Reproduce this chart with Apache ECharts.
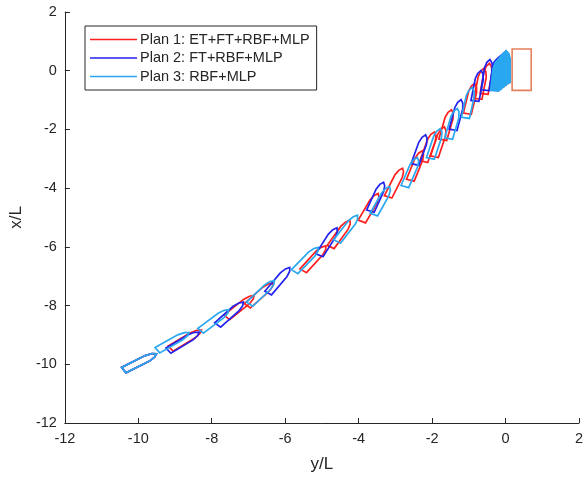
<!DOCTYPE html>
<html>
<head>
<meta charset="utf-8">
<script src="https://cdn.jsdelivr.net/npm/echarts@6/dist/echarts.min.js"></script>
<style>
  html, body { margin: 0; padding: 0; background: #fff; }
  #chart { width: 586px; height: 478px; }
</style>
</head>
<body>
<div id="chart"></div>
<script>
// ship snapshots: [y/L, x/L, heading deg (from x/L axis toward y/L)]
const plan1 = [
  [-9.95, -9.92, 58], [-8.70, -9.15, 53], [-7.22, -8.03, 45], [-6.68, -7.62, 42],
  [-5.20, -6.39, 36], [-4.50, -5.55, 30], [-3.69, -4.66, 25], [-3.00, -3.81, 22],
  [-2.43, -3.23, 18], [-2.08, -2.59, 16], [-1.80, -2.42, 15], [-1.59, -1.84, 13],
  [-0.94, -0.95, 11], [-0.67, -0.44, 9], [-0.51, -0.27, 8],
  [-0.26, -0.14, 5], [-0.19, -0.07, 4], [-0.13, -0.01, 3], [-0.07, 0.05, 2], [-0.02, 0.10, 1], [0.01, 0.14, 0]
];
const plan2 = [
  [-9.95, -9.92, 58], [-8.76, -9.22, 53], [-7.49, -8.27, 42], [-6.17, -7.14, 34],
  [-4.83, -5.82, 27], [-3.50, -4.29, 20], [-2.32, -2.69, 16], [-1.32, -1.50, 12],
  [-0.75, -0.51, 9], [-0.49, -0.14, 7],
  [-0.27, -0.12, 5], [-0.21, -0.06, 4], [-0.15, 0.00, 3], [-0.09, 0.05, 2], [-0.04, 0.10, 1], [0.00, 0.13, 0]
];
const plan3 = [
  [-9.95, -9.92, 58], [-9.05, -9.22, 55], [-7.92, -8.50, 47], [-6.63, -7.55, 40],
  [-5.42, -6.43, 38], [-4.31, -5.37, 32], [-3.37, -4.42, 24], [-2.57, -3.45, 19],
  [-1.91, -2.48, 15], [-1.43, -1.80, 13], [-1.00, -1.09, 10],
  [-0.25, -0.16, 5], [-0.225, -0.13, 5], [-0.20, -0.10, 4], [-0.175, -0.07, 4], [-0.15, -0.04, 3],
  [-0.125, -0.01, 3], [-0.10, 0.02, 2], [-0.08, 0.045, 2], [-0.06, 0.07, 2], [-0.04, 0.09, 1],
  [-0.02, 0.11, 1], [0.00, 0.13, 0], [0.01, 0.14, 0], [0.02, 0.155, 0]
];
const planNames = ['Plan 1: ET+FT+RBF+MLP', 'Plan 2: FT+RBF+MLP', 'Plan 3: RBF+MLP'];
const planColors = ['#ff1f1f', '#2222ee', '#2aa8ef'];
const berthY = [0.18, 0.70];
const berthX = [-0.67, 0.74];
const xTicks = [-12, 2, 2];   // min, max, interval
const yTicks = [-12, 2, 2];

const shipL = 1.05, shipB = 0.22;
// hull outline in ship axes (u along heading, v athwartships), fractions of L and B
const hull = [[-0.5, -0.5], [0.22, -0.5], [0.4, -0.32], [0.5, 0], [0.4, 0.32], [0.22, 0.5], [-0.5, 0.5]];

function shipItem(params, api) {
  const y0 = api.value(0), x0 = api.value(1), psi = api.value(2) * Math.PI / 180;
  const s = Math.sin(psi), c = Math.cos(psi);
  const pts = hull.map(function (p) {
    const u = p[0] * shipL, v = p[1] * shipB;
    return api.coord([y0 + u * s + v * c, x0 + u * c - v * s]);
  });
  return {
    type: 'polygon',
    shape: { points: pts },
    style: { fill: 'none', stroke: api.visual('color'), lineWidth: 1.7 }
  };
}

const axisColor = '#262626';
const font = 'Liberation Sans, Arial, Helvetica, sans-serif';

function axisBase(t, name, gap) {
  return {
    type: 'value', min: t[0], max: t[1], interval: t[2],
    name: name, nameLocation: 'middle', nameGap: gap,
    nameTextStyle: { color: axisColor, fontSize: 17, fontFamily: font },
    axisLine: { show: true, onZero: false, lineStyle: { color: axisColor, width: 1 } },
    axisTick: { show: true, inside: true, length: 5, lineStyle: { color: axisColor } },
    axisLabel: { color: axisColor, fontSize: 14.5, fontFamily: font, margin: 8 },
    splitLine: { show: false }
  };
}

const series = [plan1, plan2, plan3].map(function (d, i) {
  return {
    name: planNames[i], type: 'custom', data: d,
    itemStyle: { color: planColors[i] },
    renderItem: shipItem, animation: false, clip: false
  };
});
series.push({
  name: 'berth', type: 'custom', data: [[berthY[0], berthX[0], berthY[1], berthX[1]]],
  animation: false,
  renderItem: function (params, api) {
    const a = api.coord([api.value(0), api.value(1)]);
    const b = api.coord([api.value(2), api.value(3)]);
    return {
      type: 'rect',
      shape: { x: a[0], y: b[1], width: b[0] - a[0], height: a[1] - b[1] },
      style: { fill: 'none', stroke: '#e4805a', lineWidth: 1.6 }
    };
  }
});

const chart = echarts.init(document.getElementById('chart'), null, { renderer: 'canvas' });
chart.setOption({
  backgroundColor: '#fff',
  animation: false,
  grid: { left: 61, right: 5, top: 12, bottom: 53 },
  xAxis: axisBase(xTicks, 'y/L', 33),
  yAxis: Object.assign(axisBase(yTicks, 'x/L', 35), { nameRotate: 90 }),
  legend: {
    data: planNames.map(function (n) { return { name: n, icon: 'rect' }; }),
    orient: 'vertical', left: 85, top: 26,
    itemWidth: 47, itemHeight: 1.5, itemGap: 3.5,
    padding: [6, 7, 6, 5],
    borderColor: axisColor, borderWidth: 1, backgroundColor: '#fff',
    selectedMode: false,
    textStyle: { color: axisColor, fontSize: 14.5, fontFamily: font, lineHeight: 15, padding: [0, 0, 0, -2] }
  },
  series: series
});
</script>
</body>
</html>
